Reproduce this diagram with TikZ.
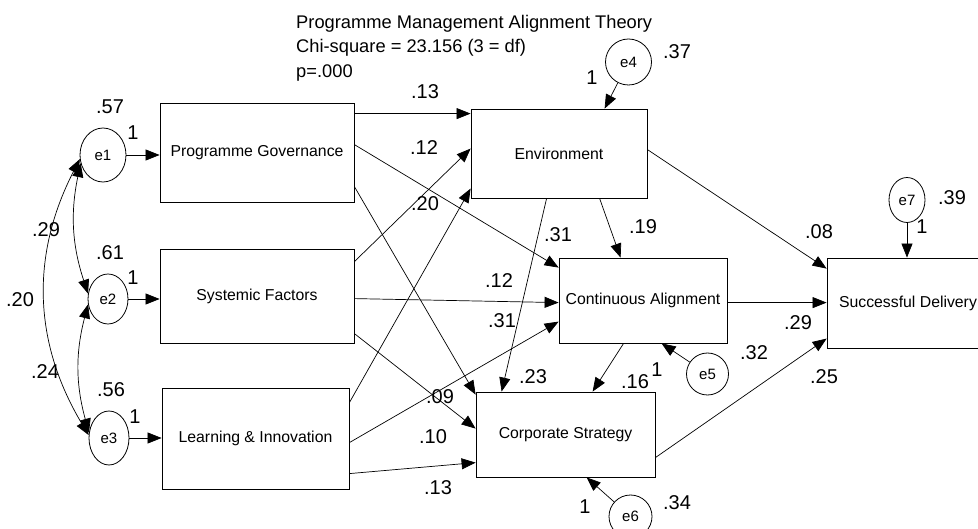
\documentclass[tikz,border=0pt]{standalone}
\usepackage{fontspec}
\setmainfont{Liberation Sans}
\usetikzlibrary{arrows.meta,shapes.geometric}
\begin{document}
\begin{tikzpicture}[x=1pt,y=-1pt,
  box/.style={draw, line width=0.8pt, rectangle, inner sep=0pt, font=\fontsize{15.8}{19}\selectfont},
  err/.style={draw, line width=0.8pt, ellipse, inner sep=0pt, font=\fontsize{15}{18}\selectfont},
  num/.style={inner sep=0pt, font=\fontsize{20}{24}\selectfont},
  ttl/.style={anchor=base west, inner sep=0pt, font=\fontsize{18.3}{22}\selectfont},
  pth/.style={line width=0.7pt, -{Triangle[length=14pt,width=11pt]}},
  cov/.style={line width=0.7pt, {Triangle[length=14pt,width=11pt]}-{Triangle[length=14pt,width=11pt]}},
]
\useasboundingbox (0,0) rectangle (978,529);
\fill[white] (0,0) rectangle (978,529);

% title
\node[ttl] (t1) at (296,29) {Programme Management Alignment Theory};
\node[ttl] (t2) at (296,53) {Chi-square = 23.156 (3 = df)};
\node[ttl] (t3) at (296,78) {p=.000};

% boxes
\node[box, minimum width=194pt, minimum height=99pt] (PG) at (257,152.5) {Programme Governance};
\node[box, minimum width=194pt, minimum height=94pt] (SF) at (257,296) {Systemic Factors};
\node[box, minimum width=187pt, minimum height=101pt] (LI) at (255.5,438.5) {Learning \& Innovation};
\node[box, minimum width=176pt, minimum height=89pt] (Env) at (559,153.5) {Environment};
\node[box, minimum width=168pt, minimum height=85pt] (CA) at (643,300.5) {Continuous Alignment};
\node[box, minimum width=179pt, minimum height=85pt] (CS) at (565.5,434.5) {Corporate Strategy};
\node[box, minimum width=162pt, minimum height=90pt] (SD) at (908,303) {Successful Delivery};

% error terms
\node[err, minimum width=46pt, minimum height=54pt] (e1) at (103,155) {e1};
\node[err, minimum width=40pt, minimum height=50pt] (e2) at (108,299) {e2};
\node[err, minimum width=40pt, minimum height=54pt] (e3) at (109,438) {e3};
\node[err, circle, minimum size=46pt] (e4) at (628.5,62) {e4};
\node[err, circle, minimum size=42pt] (e5) at (707.5,374) {e5};
\node[err, circle, minimum size=43pt] (e6) at (630.5,516.5) {e6};
\node[err, minimum width=36pt, minimum height=45pt] (e7) at (907,200) {e7};

% error arrows
\draw[pth] (e1) -- (e1 -| PG.west);
\draw[pth] (e2) -- (e2 -| SF.west);
\draw[pth] (e3) -- (e3 -| LI.west);
\draw[pth] (e4) -- ([xshift=134pt]Env.north west);
\draw[pth] (e5) -- ([xshift=103pt]CA.south west);
\draw[pth] (e6) -- ([xshift=111pt]CS.south west);
\draw[pth] (e7.south) -- (e7.south |- SD.north);

% covariances
\draw[cov] (e1.200) to[bend right=15] (e2.165);
\draw[cov] (e2.195) to[bend right=15] (e3.165);
\draw[cov] (e1.190) to[bend right=29] (e3.172);

% structural paths
\draw[pth] ([yshift=-11pt]PG.north east) -- ([yshift=-5pt]Env.north west);
\draw[pth] ([yshift=-42pt]PG.north east) -- ([yshift=-10pt]CA.north west);
\draw[pth] ([yshift=-84pt]PG.north east) -- ([yshift=-3pt]CS.north west);
\draw[pth] ([yshift=-13pt]SF.north east) -- ([yshift=-40pt]Env.north west);
\draw[pth] ([yshift=-50pt]SF.north east) -- ([yshift=-45pt]CA.north west);
\draw[pth] ([yshift=-85pt]SF.north east) -- ([yshift=-37pt]CS.north west);
\draw[pth] ([yshift=-15pt]LI.north east) -- ([yshift=-80pt]Env.north west);
\draw[pth] ([yshift=-55pt]LI.north east) -- ([yshift=-64pt]CA.north west);
\draw[pth] ([yshift=-86pt]LI.north east) -- ([yshift=-71pt]CS.north west);
\draw[pth] ([xshift=129pt]Env.south west) -- ([xshift=62pt]CA.north west);
\draw[pth] ([xshift=76pt]Env.south west) -- ([xshift=26pt]CS.north west);
\draw[pth] ([yshift=-41pt]Env.north east) -- ([yshift=-11pt]SD.north west);
\draw[pth] ([yshift=-45pt]CA.north east) -- ([yshift=-45pt]SD.north west);
\draw[pth] ([xshift=65pt]CA.south west) -- ([xshift=117pt]CS.north west);
\draw[pth] ([yshift=-66pt]CS.north east) -- ([yshift=-81pt]SD.north west);

% numeric labels
\node[num] (v1) at (110,107) {.57};
\node[num] (w1) at (133,133) {1};
\node[num] (v2) at (110,253) {.61};
\node[num] (w2) at (133,278) {1};
\node[num] (v3) at (111,390) {.56};
\node[num] (w3) at (135,417) {1};
\node[num] (c12) at (46,230) {.29};
\node[num] (c13) at (20,300) {.20};
\node[num] (c23) at (45,372) {.24};
\node[num] (b1) at (425,92) {.13};
\node[num] (b2) at (424,148) {.12};
\node[num] (b3) at (425,204) {.20};
\node[num] (b4) at (558,235) {.31};
\node[num] (b5) at (643,227) {.19};
\node[num] (b6) at (499,281) {.12};
\node[num] (b7) at (502,321) {.31};
\node[num] (b8) at (533,377) {.23};
\node[num] (b9) at (635,382) {.16};
\node[num] (w5) at (657,370) {1};
\node[num] (b10) at (440,397) {.09};
\node[num] (b11) at (433,437) {.10};
\node[num] (b12) at (438,488) {.13};
\node[num] (w6) at (585,507) {1};
\node[num] (v6) at (677,503) {.34};
\node[num] (v4) at (677,52) {.37};
\node[num] (w4) at (592,78) {1};
\node[num] (v7) at (952,198) {.39};
\node[num] (w7) at (922,227) {1};
\node[num] (b13) at (819,232) {.08};
\node[num] (b14) at (798,323) {.29};
\node[num] (b15) at (754,353) {.32};
\node[num] (b16) at (824,377) {.25};
\end{tikzpicture}
\end{document}
